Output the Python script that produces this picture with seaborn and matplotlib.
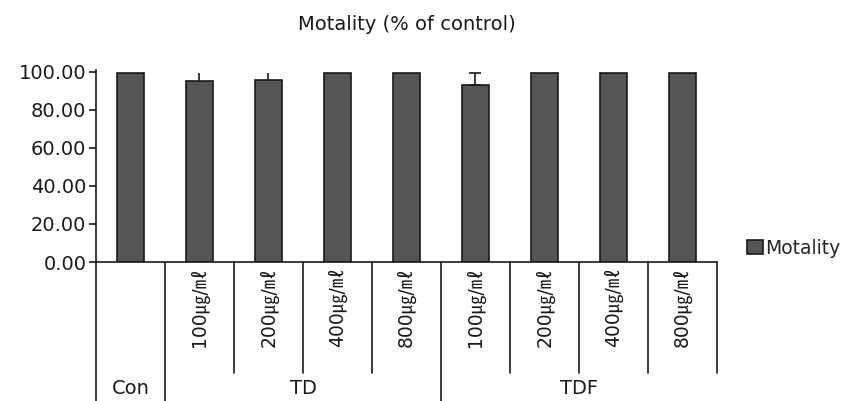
import matplotlib
matplotlib.use("Agg")
import matplotlib.pyplot as plt
import matplotlib.transforms as mtransforms
from matplotlib.lines import Line2D
import seaborn as sns
import pandas as pd

sns.set_style("ticks")
plt.rcParams['font.family'] = ['DejaVu Sans', 'Noto Sans CJK KR']

# ---- data ----
categories = ["Con", "TD 100", "TD 200", "TD 400", "TD 800",
              "TDF 100", "TDF 200", "TDF 400", "TDF 800"]
tick_labels = ["", "100㎍/㎖", "200㎍/㎖", "400㎍/㎖", "800㎍/㎖",
               "100㎍/㎖", "200㎍/㎖", "400㎍/㎖", "800㎍/㎖"]
motality = [99.5, 95.2, 95.7, 99.5, 99.5, 93.2, 99.5, 99.5, 99.5]
err_up = [0.0, 4.2, 3.8, 0.0, 0.0, 6.0, 0.0, 0.0, 0.0]
groups = ["Con", "TD", "TDF"]
group_centers = [0, 2.5, 6.5]

df = pd.DataFrame({"cat": categories, "val": motality})

fig = plt.figure(figsize=(8.45, 4.01), dpi=100)
ax = fig.add_axes([96/845, 1-262/401, (717-96)/845, (262-70)/401])

sns.barplot(data=df, x="cat", y="val", order=categories, color="#555555",
            edgecolor="#1a1a1a", linewidth=1.2, width=0.39, ax=ax,
            label="Motality", saturation=1)
if ax.get_legend() is not None:
    ax.get_legend().remove()

# error bars (upper only)
xs = list(range(len(categories)))
for x, v, e in zip(xs, motality, err_up):
    if e > 0:
        ax.errorbar([x], [v], yerr=[[0], [e]], fmt="none", ecolor="#1a1a1a",
                    elinewidth=1.2, capsize=4 if e > 5 else 0, capthick=1.2)

ax.set_xlim(-0.5, 8.5)
ax.set_ylim(0, 101)
ax.set_yticks([0, 20, 40, 60, 80, 100])
ax.set_yticklabels([f"{v:.2f}" for v in [0, 20, 40, 60, 80, 100]])
ax.tick_params(axis="y", labelsize=14, length=5, width=1.2, color="#1a1a1a",
               pad=2, labelcolor="#1a1a1a")
ax.set_xticks(xs)
ax.set_xticklabels(tick_labels, rotation=90, fontsize=13.5, color="#1a1a1a")
ax.tick_params(axis="x", length=0, pad=4)
ax.set_xlabel("")
ax.set_ylabel("")
for side in ["top", "right"]:
    ax.spines[side].set_visible(False)
for side in ["left", "bottom"]:
    ax.spines[side].set_linewidth(1.2)
    ax.spines[side].set_color("#1a1a1a")

ax.set_title("Motality (% of control)", fontsize=14, pad=29, color="#1a1a1a")

# table-like category separators below the axis
trans = mtransforms.blended_transform_factory(ax.transData, fig.transFigure)
y_axis = 1 - 262/401
y_short = 1 - 373/401
bounds = [-0.5, 0.5, 1.5, 2.5, 3.5, 4.5, 5.5, 6.5, 7.5, 8.5]
full = {-0.5, 0.5, 4.5}
for b in bounds:
    y0 = 0.0 if b in full else y_short
    fig.add_artist(Line2D([b, b], [y_axis, y0], transform=trans,
                          color="#1a1a1a", linewidth=1.2))

for g, c in zip(groups, group_centers):
    fig.text(c, 1 - 389/401, g, transform=trans, ha="center", va="center",
             fontsize=14, color="#1a1a1a")

handles, labels = ax.get_legend_handles_labels()
fig.legend(handles[:1], labels[:1], loc="center left",
           bbox_to_anchor=(747/845, 1 - 248/401),
           frameon=False, fontsize=13.5, handlelength=0.85, handleheight=0.85,
           handletextpad=0.12, borderaxespad=0, borderpad=0)

fig.savefig("out.png", dpi=100)
